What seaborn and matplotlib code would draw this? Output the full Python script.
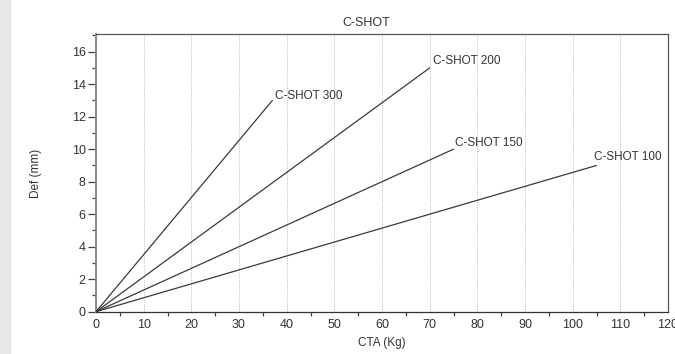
import matplotlib
matplotlib.use("Agg")
import matplotlib.pyplot as plt
import seaborn as sns
import pandas as pd
from matplotlib.patches import Rectangle
from matplotlib.ticker import MultipleLocator

series = ["C-SHOT 300", "C-SHOT 200", "C-SHOT 150", "C-SHOT 100"]
end_cta = [37, 70, 75, 105]
end_def = [13, 15, 10, 9]
x_ticks = [0, 10, 20, 30, 40, 50, 60, 70, 80, 90, 100, 110, 120]
y_ticks = [0, 2, 4, 6, 8, 10, 12, 14, 16]

rows = []
for s, xe, ye in zip(series, end_cta, end_def):
    rows.append({"series": s, "CTA": 0, "Def": 0})
    rows.append({"series": s, "CTA": xe, "Def": ye})
df = pd.DataFrame(rows)

sns.set_style("ticks")
plt.rcParams["font.family"] = ["Liberation Sans", "DejaVu Sans"]

fig = plt.figure(figsize=(6.75, 3.54), dpi=100)
fig.patches.append(Rectangle((0, 0), 10 / 675, 1, transform=fig.transFigure,
                             color="#e6e7e9", zorder=-1))
ax = fig.add_axes([96 / 675, 1 - 311.7 / 354, (668 - 96) / 675, (311.7 - 34.3) / 354])

sns.lineplot(data=df, x="CTA", y="Def", units="series", estimator=None,
             color="#3a3a3a", linewidth=0.9, ax=ax, zorder=3)

ax.set_xlim(0, 120)
ax.set_ylim(0, 17.07)
ax.set_xticks(x_ticks)
ax.set_yticks(y_ticks)
ax.xaxis.set_minor_locator(MultipleLocator(5))
ax.yaxis.set_minor_locator(MultipleLocator(1))
ax.tick_params(axis="x", which="major", length=0, labelsize=9,
               labelcolor="#333333", pad=5.5)
ax.tick_params(axis="x", which="minor", length=3, width=0.9, color="#444444")
ax.tick_params(axis="y", which="major", length=5.5, width=0.9, color="#444444",
               labelsize=9, labelcolor="#333333", pad=2)
ax.tick_params(axis="y", which="minor", length=3, width=0.9, color="#444444")
for sp in ax.spines.values():
    sp.set_visible(True)
    sp.set_color("#555555")
    sp.set_linewidth(0.9)
ax.spines["bottom"].set_color("#333333")
ax.spines["left"].set_color("#888888")
ax.spines["left"].set_linewidth(1.4)

for xv in x_ticks[1:-1]:
    ax.axvline(xv, color="#b5b5b5", linestyle=(0, (1, 1.5)), linewidth=0.7, zorder=1)

label_pos = {"C-SHOT 300": (37.5, 13.27), "C-SHOT 200": (70.7, 15.43),
             "C-SHOT 150": (75.4, 10.4), "C-SHOT 100": (104.5, 9.54)}
for s in series:
    lx, ly = label_pos[s]
    ax.text(lx, ly, s, fontsize=8.5, color="#333333", ha="left", va="center")

ax.set_xlabel("CTA (Kg)", fontsize=8.5, color="#333333", labelpad=4)
ax.set_ylabel("Def (mm)", fontsize=8.5, color="#333333", labelpad=21)
ax.text(0.472, 1.042, "C-SHOT", transform=ax.transAxes, fontsize=9,
        color="#333333", ha="center", va="center")

fig.savefig("out.png", dpi=100)
